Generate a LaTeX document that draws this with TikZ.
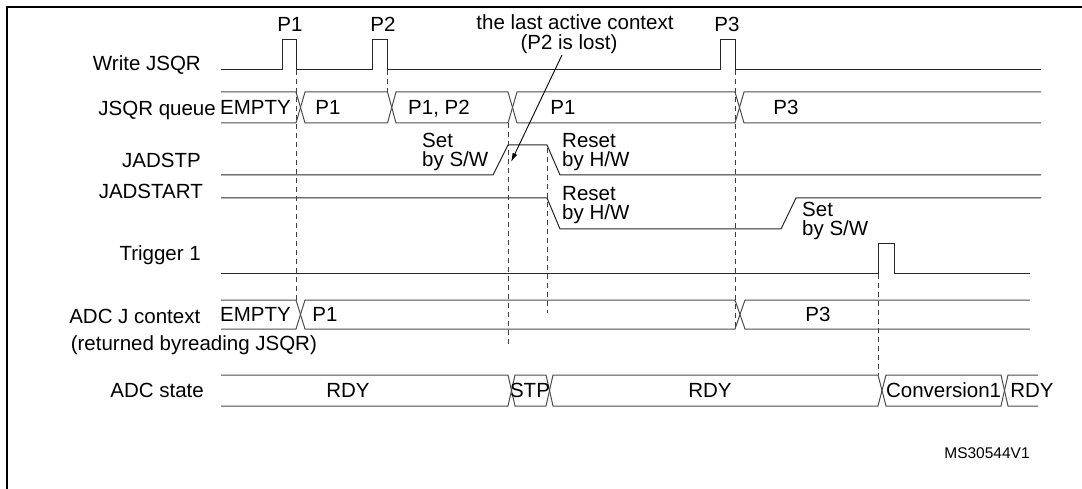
\documentclass[tikz,border=0pt]{standalone}
\usepackage{fontspec}
\setmainfont{Liberation Sans}
\usetikzlibrary{arrows.meta}
\tikzset{
  lab/.style={inner sep=0pt, font=\fontsize{20.5}{24}\selectfont, yshift=-7.3pt, anchor=base},
  labe/.style={lab, anchor=base east},
  labw/.style={lab, anchor=base west},
  sig/.style={line width=1pt, black!85},
  bus/.style={line width=1pt, black!70},
  guide/.style={line width=0.9pt, black!75, dash pattern=on 5pt off 4pt},
  frame/.style={line width=2.2pt, black},
  note/.style={line width=0.9pt, black, -{Latex[length=9pt,width=5pt]}}
}
\begin{document}
\begin{tikzpicture}[x=1pt,y=-1pt]
\useasboundingbox (0,0) rectangle (1082,489);
% frame
\draw[frame] (7.3,489) -- (7.3,7.3) -- (1082,7.3);

% row labels
\node[labe] (lwrite) at (201,63) {Write JSQR};
\node[labe] (lqueue) at (216,108) {JSQR queue};
\node[labe] (ljadstp) at (201,160) {JADSTP};
\node[labe] (ljadstart) at (203,191.5) {JADSTART};
\node[labe] (ltrig) at (201,253) {Trigger 1};
\node[labe] (ladcj) at (200.5,316) {ADC J context};
\node[labw] (lret) at (70.6,343.5) {(returned byreading JSQR)};
\node[labe] (lstate) at (204,390) {ADC state};

% pulse labels
\node[lab] (p1) at (290,24) {P1};
\node[lab] (p2) at (383,24) {P2};
\node[lab] (p3) at (727,24) {P3};
\node[lab] (ctx1) at (575,22) {the last active context};
\node[lab] (ctx2) at (569,42) {(P2 is lost)};

% Write JSQR
\draw[sig] (221,70) -- (282,70) -- (282,40) -- (296.5,40) -- (296.5,70) -- (372,70) -- (372,40) -- (387.5,40) -- (387.5,70)
  -- (720,70) -- (720,40) -- (735,40) -- (735,70) -- (1041,70);

% JSQR queue bus
\draw[bus] (221,92) -- (296,92) -- (305,123) -- (387.5,123) -- (396,92) -- (508,92) -- (517,123) -- (735,123) -- (744,92) -- (1041,92);
\draw[bus] (221,123) -- (296,123) -- (305,92) -- (387.5,92) -- (396,123) -- (508,123) -- (517,92) -- (735,92) -- (744,123) -- (1041,123);
\node[labw] (qe) at (220,107.5) {EMPTY};
\node[lab] (qp1) at (328,107.5) {P1};
\node[lab] (qp12) at (439,107.5) {P1, P2};
\node[lab] (qp1b) at (563,107.5) {P1};
\node[lab] (qp3) at (786,107.5) {P3};

% JADSTP
\draw[sig] (221,175) -- (493,175) -- (508,145) -- (547,145) -- (560,175) -- (1041,175);
\node[labw] (s1a) at (422,140) {Set};
\node[labw] (s1b) at (422,159.5) {by S/W};
\node[labw] (r1a) at (562,140) {Reset};
\node[labw] (r1b) at (562,159.5) {by H/W};

% JADSTART
\draw[sig] (221,198) -- (547,198) -- (560,229) -- (781,229) -- (796,198) -- (1041,198);
\node[labw] (r2a) at (562,193) {Reset};
\node[labw] (r2b) at (562,212.5) {by H/W};
\node[labw] (s2a) at (802,209) {Set};
\node[labw] (s2b) at (802,228.5) {by S/W};

% Trigger 1
\draw[sig] (221,274) -- (878,274) -- (878,244) -- (894,244) -- (894,274) -- (1030,274);

% ADC J context bus
\draw[bus] (221,300) -- (296,300) -- (305,329) -- (735,329) -- (745,300) -- (1030,300);
\draw[bus] (221,329) -- (296,329) -- (305,300) -- (735,300) -- (745,329) -- (1030,329);
\node[labw] (je) at (220,314.5) {EMPTY};
\node[lab] (jp1) at (325,314.5) {P1};
\node[lab] (jp3) at (818,314.5) {P3};

% ADC state bus
\draw[bus] (221,375) -- (508,375) -- (515,406) -- (546,406) -- (553,375) -- (878,375) -- (886,406) -- (1001,406) -- (1008,375) -- (1038,375);
\draw[bus] (221,406) -- (508,406) -- (515,375) -- (546,375) -- (553,406) -- (878,406) -- (886,375) -- (1001,375) -- (1008,406) -- (1038,406);
\node[lab] (sr1) at (348,390.5) {RDY};
\node[lab] (sstp) at (530,390.5) {STP};
\node[lab] (sr2) at (710,390.5) {RDY};
\node[lab] (sconv) at (943.6,390.5) {Conversion1};
\node[lab] (sr3) at (1032,390.5) {RDY};

% guide lines
\draw[guide] (296.5,70) -- (296.5,300);
\draw[guide] (387.5,70) -- (387.5,92);
\draw[guide] (508,123) -- (508,345);
\draw[guide] (547,148) -- (547,313);
\draw[guide] (735,70) -- (735,329);
\draw[guide] (878,274) -- (878,375);

% annotation arrow
\coordinate (tip) at (511,162);
\draw[note] (562,55) -- (tip);

% reference
\node[lab, font=\fontsize{15.5}{18}\selectfont, yshift=1.7pt] (ref) at (987,453) {MS30544V1};
\end{tikzpicture}
\end{document}
